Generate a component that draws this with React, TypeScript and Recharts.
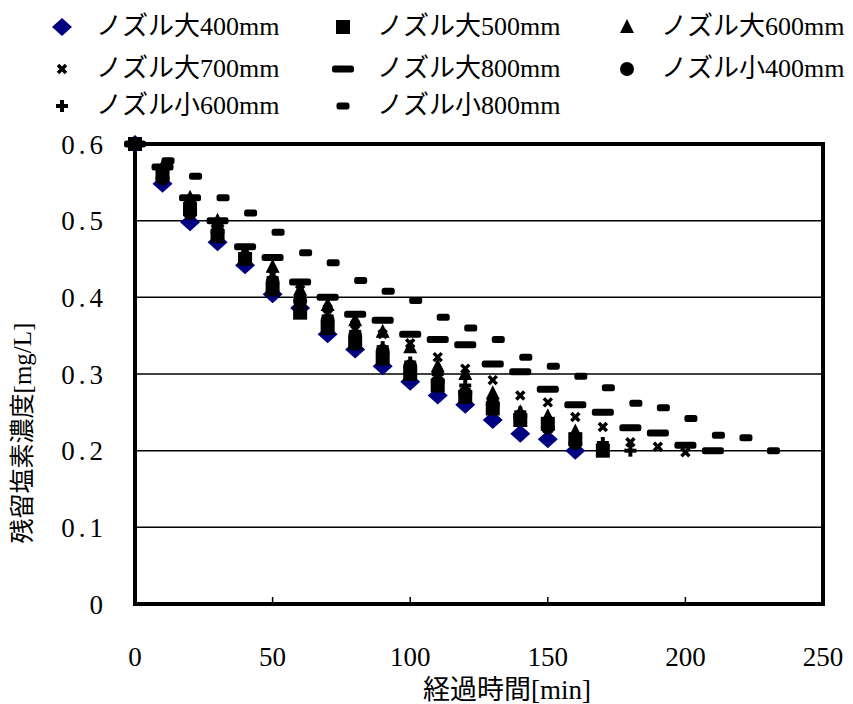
import React from 'react';
import { ScatterChart, Scatter, XAxis, YAxis, CartesianGrid, ReferenceArea, Label } from 'recharts';

// time axis [min]
const minutes = [0, 10, 20, 30, 40, 50, 60, 70, 80, 90, 100, 110, 120, 130, 140, 150, 160, 170, 180, 190, 200, 210, 220, 230];
const minutesSmall800 = [0, 12, 22, 32, 42, 52, 62, 72, 82, 92, 102, 112, 122, 132, 142, 152, 162, 172, 182, 192, 202, 212, 222, 232];

// residual chlorine [mg/L]
const large400 = [0.6, 0.548, 0.498, 0.472, 0.442, 0.404, 0.386, 0.352, 0.332, 0.31, 0.29, 0.272, 0.26, 0.24, 0.222, 0.215, 0.2];
const large500 = [0.6, 0.56, 0.515, 0.48, 0.45, 0.41, 0.38, 0.36, 0.34, 0.32, 0.3, 0.285, 0.27, 0.255, 0.24, 0.235, 0.215, 0.2];
const large600 = [0.6, 0.57, 0.53, 0.5, 0.46, 0.44, 0.41, 0.39, 0.37, 0.355, 0.335, 0.31, 0.3, 0.275, 0.25, 0.245, 0.225];
const large700 = [0.6, 0.565, 0.525, 0.495, 0.46, 0.43, 0.41, 0.385, 0.365, 0.352, 0.34, 0.322, 0.307, 0.292, 0.272, 0.263, 0.244, 0.231, 0.211, 0.205, 0.198];
const large800 = [0.6, 0.57, 0.53, 0.5, 0.466, 0.452, 0.42, 0.4, 0.378, 0.37, 0.352, 0.345, 0.338, 0.313, 0.303, 0.28, 0.26, 0.25, 0.23, 0.223, 0.207, 0.2];
const small400 = [0.6, 0.555, 0.51, 0.485, 0.45, 0.42, 0.395, 0.37, 0.35, 0.33, 0.31, 0.29, 0.275, 0.26, 0.245, 0.23, 0.21];
const small600 = [0.6, 0.56, 0.52, 0.49, 0.455, 0.425, 0.4, 0.375, 0.355, 0.335, 0.315, 0.3, 0.285, 0.265, 0.25, 0.235, 0.22, 0.21, 0.2];
const small800 = [0.6, 0.578, 0.558, 0.53, 0.51, 0.485, 0.458, 0.445, 0.422, 0.408, 0.396, 0.374, 0.36, 0.345, 0.322, 0.31, 0.297, 0.282, 0.262, 0.256, 0.242, 0.22, 0.217, 0.2];

const xTicks = [0, 50, 100, 150, 200, 250];
const yTicks = [0, 0.1, 0.2, 0.3, 0.4, 0.5, 0.6];

const FONT = "'Liberation Serif', 'Noto Sans CJK JP', serif";

type Kind = 'diamond' | 'square' | 'triangle' | 'cross' | 'longDash' | 'circle' | 'plus' | 'shortDash';

const toPoints = (xs: number[], ys: number[]) => ys.map((y, i) => ({ x: xs[i], y }));

const series: { name: string; kind: Kind; data: { x: number; y: number }[] }[] = [
  { name: 'ノズル大400mm', kind: 'diamond', data: toPoints(minutes, large400) },
  { name: 'ノズル大500mm', kind: 'square', data: toPoints(minutes, large500) },
  { name: 'ノズル大600mm', kind: 'triangle', data: toPoints(minutes, large600) },
  { name: 'ノズル大700mm', kind: 'cross', data: toPoints(minutes, large700) },
  { name: 'ノズル大800mm', kind: 'longDash', data: toPoints(minutes, large800) },
  { name: 'ノズル小400mm', kind: 'circle', data: toPoints(minutes, small400) },
  { name: 'ノズル小600mm', kind: 'plus', data: toPoints(minutes, small600) },
  { name: 'ノズル小800mm', kind: 'shortDash', data: toPoints(minutesSmall800, small800) },
];

function marker(kind: Kind, cx: number, cy: number) {
  switch (kind) {
    case 'diamond':
      return <path d={`M${cx},${cy - 9} L${cx + 10},${cy} L${cx},${cy + 9} L${cx - 10},${cy} Z`} fill="#000080" />;
    case 'square':
      return <rect x={cx - 7} y={cy - 7} width={14} height={14} fill="#000" />;
    case 'triangle':
      return <path d={`M${cx},${cy - 8} L${cx + 7},${cy + 6} L${cx - 7},${cy + 6} Z`} fill="#000" />;
    case 'cross':
      return (
        <g stroke="#000" strokeWidth={3.5}>
          <line x1={cx - 4} y1={cy - 4} x2={cx + 4} y2={cy + 4} />
          <line x1={cx - 4} y1={cy + 4} x2={cx + 4} y2={cy - 4} />
        </g>
      );
    case 'longDash':
      return <rect x={cx - 11} y={cy - 3.5} width={22} height={7} rx={2.5} fill="#000" />;
    case 'circle':
      return <circle cx={cx} cy={cy} r={7} fill="#000" />;
    case 'plus':
      return (
        <g stroke="#000" strokeWidth={4}>
          <line x1={cx - 6} y1={cy} x2={cx + 6} y2={cy} />
          <line x1={cx} y1={cy - 6} x2={cx} y2={cy + 6} />
        </g>
      );
    case 'shortDash':
      return <rect x={cx - 6.5} y={cy - 3.5} width={13} height={7} rx={2.5} fill="#000" />;
  }
}

const legendCols = [54, 335, 619];
const legendRows = [19, 61, 98];

const YTitle = (props: any) => {
  const vb = props.viewBox;
  const cx = vb.x + 14;
  const cy = vb.y + vb.height / 2 + 59;
  return (
    <text x={cx} y={cy} transform={`rotate(-90, ${cx}, ${cy})`} textAnchor="middle" dominantBaseline="central" fontSize={25} fontFamily={FONT} fill="#000">
      残留塩素濃度[mg/L]
    </text>
  );
};

const XTitle = (props: any) => {
  const vb = props.viewBox;
  return (
    <text x={vb.x + vb.width / 2 + 28} y={vb.y + vb.height - 5} textAnchor="middle" fontSize={27} fontFamily={FONT} fill="#000">
      経過時間[min]
    </text>
  );
};

export default function App() {
  return (
    <div style={{ position: 'relative', width: 845, height: 696, fontFamily: FONT }}>
      <ScatterChart width={845} height={696} margin={{ top: 136, right: 30, bottom: 0, left: 0 }}>
        <CartesianGrid vertical={false} stroke="#000" strokeWidth={1.5} />
        <ReferenceArea x1={0} x2={250} y1={0} y2={0.6} fill="none" stroke="#000" strokeWidth={4} ifOverflow="visible" />
        <XAxis
          type="number"
          dataKey="x"
          domain={[0, 250]}
          ticks={xTicks}
          axisLine={false}
          tickSize={-7}
          tickMargin={50}
          tickLine={{ stroke: '#000', strokeWidth: 1.5 }}
          tick={{ fill: '#000', fontSize: 27, fontFamily: FONT }}
          height={100}
        >
          <Label content={XTitle} />
        </XAxis>
        <YAxis
          type="number"
          dataKey="y"
          domain={[0, 0.6]}
          ticks={yTicks}
          axisLine={false}
          tickLine={false}
          tickMargin={22}
          width={127}
          tickFormatter={(v: number) => (v === 0 ? '0' : v.toFixed(1))}
          tick={{ fill: '#000', fontSize: 27, fontFamily: FONT, letterSpacing: 4 }}
        >
          <Label content={YTitle} />
        </YAxis>
        {series.map((s) => (
          <Scatter
            key={s.name}
            name={s.name}
            data={s.data}
            isAnimationActive={false}
            shape={(p: any) => marker(s.kind, p.cx, p.cy)}
          />
        ))}
      </ScatterChart>
      {series.map((s, i) => {
        const left = legendCols[i % 3];
        const top = legendRows[Math.floor(i / 3)];
        return (
          <div key={s.name} style={{ position: 'absolute', left: left - 15, top: top - 15, height: 30, display: 'flex', alignItems: 'center' }}>
            <svg width={30} height={30}>{marker(s.kind, 15, 15)}</svg>
            <span style={{ position: 'absolute', left: 49, whiteSpace: 'nowrap', fontSize: 26, lineHeight: '30px', color: '#000' }}>{s.name}</span>
          </div>
        );
      })}
    </div>
  );
}
